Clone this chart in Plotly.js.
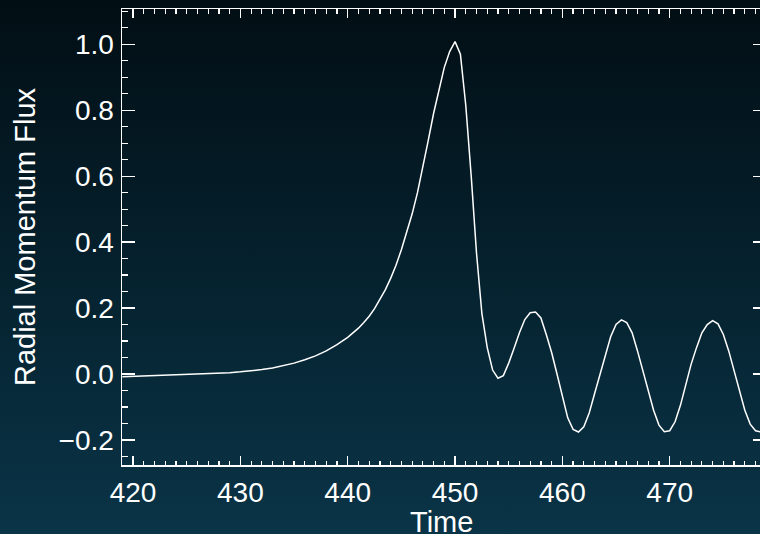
<!DOCTYPE html>
<html>
<head>
<meta charset="utf-8">
<script src="https://cdn.plot.ly/plotly-3.0.1.min.js"></script>
<style>
  html, body {
    margin: 0;
    padding: 0;
    overflow: hidden;
    width: 760px;
    height: 534px;
    background: linear-gradient(to bottom, #020e14 0%, #062533 60%, #0a3447 100%);
  }
  #chart { width: 770px; height: 534px; }
</style>
</head>
<body>
<div id="chart"></div>
<script>
// Radial momentum flux against time
const time = [
  419, 420, 421, 422, 423, 424, 425, 426, 427, 428, 429, 430, 431, 432, 433,
  434, 435, 436, 437, 438, 439, 440, 440.5, 441, 441.5, 442, 442.5, 443, 443.5,
  444, 444.5, 445, 445.5, 446, 446.5, 447, 447.5, 448, 448.5, 449, 449.5, 450,
  450.5, 451, 451.5, 452, 452.5, 453, 453.5, 454, 454.5, 455, 455.5, 456, 456.5,
  457, 457.5, 458, 458.5, 459, 459.5, 460, 460.5, 461, 461.5, 462, 462.5, 463,
  463.5, 464, 464.5, 465, 465.5, 466, 466.5, 467, 467.5, 468, 468.5, 469, 469.5,
  470, 470.5, 471, 471.5, 472, 472.5, 473, 473.5, 474, 474.5, 475, 475.5, 476,
  476.5, 477, 477.5, 478, 478.5, 479
];
const flux = [
  -0.008, -0.007, -0.006, -0.005, -0.004, -0.003, -0.002, -0.001, 0.0005, 0.002,
  0.004, 0.0065, 0.0095, 0.0135, 0.0185, 0.025, 0.033, 0.043, 0.055, 0.070, 0.089,
  0.111, 0.124, 0.139, 0.156, 0.175, 0.198, 0.225, 0.255, 0.290, 0.330, 0.377,
  0.430, 0.485, 0.550, 0.625, 0.708, 0.790, 0.865, 0.930, 0.978, 1.008,
  0.970, 0.815, 0.603, 0.367, 0.184, 0.080, 0.012, -0.013, -0.005, 0.033, 0.078,
  0.125, 0.165, 0.186, 0.188, 0.170, 0.120, 0.065, 0.000, -0.065, -0.133,
  -0.168, -0.176, -0.160, -0.118, -0.060, -0.002, 0.058, 0.113, 0.150, 0.164,
  0.156, 0.125, 0.070, 0.010, -0.050, -0.110, -0.155, -0.175, -0.172, -0.145,
  -0.095, -0.035, 0.030, 0.080, 0.125, 0.150, 0.162, 0.152, 0.120, 0.070, 0.010,
  -0.050, -0.110, -0.152, -0.172, -0.176, -0.170
];

const xTickVals = [420, 430, 440, 450, 460, 470];
const xTickText = ['420', '430', '440', '450', '460', '470'];
const yTickVals = [-0.2, 0.0, 0.2, 0.4, 0.6, 0.8, 1.0];
const yTickText = ['\u22120.2', '0.0', '0.2', '0.4', '0.6', '0.8', '1.0'];
const xTitle = 'Time';
const yTitle = 'Radial Momentum Flux';

const FONT = '"Liberation Sans", Arial, Helvetica, sans-serif';

const trace = {
  x: time,
  y: flux,
  type: 'scatter',
  mode: 'lines',
  line: { color: '#ffffff', width: 1.5 },
  hoverinfo: 'skip'
};

const axisCommon = {
  showline: true,
  linecolor: '#ffffff',
  linewidth: 1.5,
  mirror: 'allticks',
  ticks: 'inside',
  tickcolor: '#ffffff',
  tickwidth: 1.3,
  showgrid: false,
  zeroline: false,
  tickfont: { family: FONT, size: 28, color: '#ffffff' }
};

const layout = {
  width: 770,
  height: 534,
  margin: { l: 122, r: 5, t: 9, b: 69, pad: 0 },
  paper_bgcolor: 'rgba(0,0,0,0)',
  plot_bgcolor: 'rgba(0,0,0,0)',
  showlegend: false,
  font: { family: FONT, color: '#ffffff' },
  xaxis: Object.assign({}, axisCommon, {
    range: [418.97, 478.88],
    tickmode: 'array',
    tickvals: xTickVals,
    ticktext: xTickText,
    ticklen: 9,
    ticklabelstandoff: 2,
    minor: { tickmode: 'linear', tick0: 420, dtick: 1, ticks: 'inside', ticklen: 4.5, tickcolor: '#ffffff', tickwidth: 1.2 }
  }),
  yaxis: Object.assign({}, axisCommon, {
    range: [-0.276, 1.107],
    tickmode: 'array',
    tickvals: yTickVals,
    ticktext: yTickText,
    ticklen: 12.5,
    ticklabelstandoff: 1,
    minor: { tickmode: 'linear', tick0: 0, dtick: 0.05, ticks: 'inside', ticklen: 5.5, tickcolor: '#ffffff', tickwidth: 1.2 },
    title: { text: yTitle, font: { family: FONT, size: 29, color: '#ffffff' }, standoff: 14 }
  }),
  // x-axis title placed just under the tick labels, inside the bottom margin
  annotations: [{
    text: xTitle,
    xref: 'paper', yref: 'paper',
    x: 0.497, y: -0.124,
    xanchor: 'center', yanchor: 'middle',
    showarrow: false,
    font: { family: FONT, size: 29, color: '#ffffff' }
  }]
};

Plotly.newPlot('chart', [trace], layout, { staticPlot: true, displayModeBar: false });
</script>
</body>
</html>
